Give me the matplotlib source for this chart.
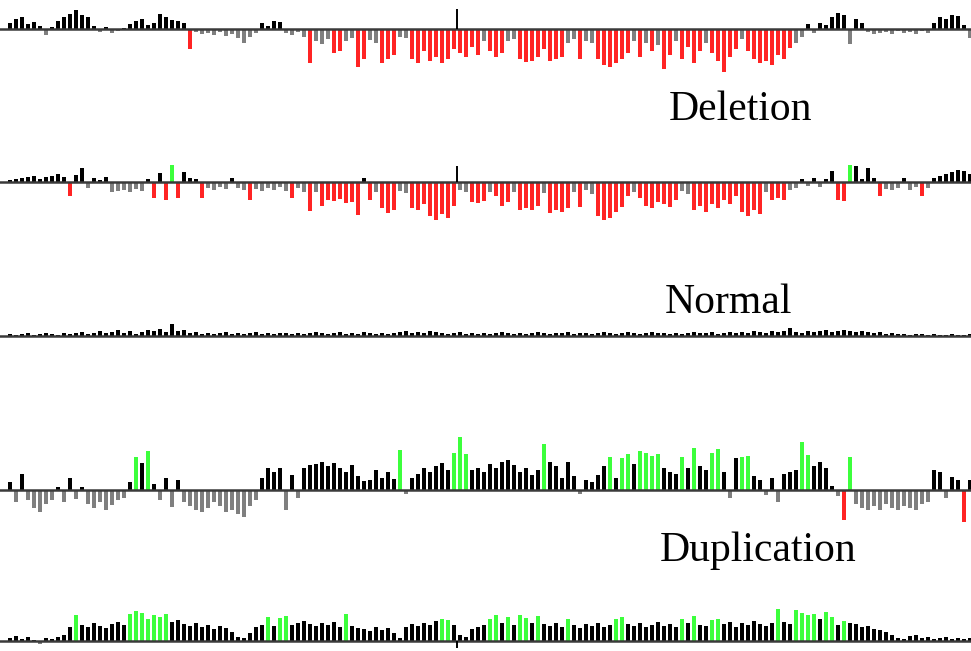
import matplotlib
matplotlib.use("Agg")
import matplotlib.pyplot as plt

# ====== DATA (bar heights, one bar per probe bin, px-like units, + = gain) ======
TRACK_DEL_A = [
    6, 10, 12, 5, 7, 3, -6, 2, 8, 12, 15, 19, 14, 12, 3, -3, 2, -4, -2, 1,
    5, 8, 10, 4, 6, 15, 12, 9, 8, 6, -20, -3, -5, -4, -6, -3, -7, -5, -9, -14,
    -8, -4, 6, 3, 8, 7, -4, -6, -3, -8, -34, -12, -15, -10, -24, -22, -12, -9, -38, -30,
    -11, -14, -34, -30, -26, -8, -9, -30, -34, -22, -32, -28, -34, -30, -20, -24, -28, -18, -26, -12,
    -22, -28, -24, -12, -10, -30, -33, -32, -28, -20, -32, -30, -28, -14, -10, -30, -12, -14, -30, -36,
    -38, -34, -30, -24, -12, -28, -14, -22, -16, -40, -26, -12, -30, -18, -34, -22, -14, -24, -32, -43,
    -28, -20, -10, -22, -30, -34, -32, -36, -26, -30, -19, -14, -8, 5, -4, 6, 4, 12, 16, 14,
    -15, 10, 6, -3, -5, -4, -3, -5, -2, -4, -3, -5, -2, -4, 6, 12, 10, 14, 13, 4,
    -9,
]
TRACK_DEL_B = [
    2, 3, 4, 5, 6, 3, 5, 6, 8, 5, -14, 7, 14, -6, 4, 2, 5, -10, -9, -8,
    -10, -7, -9, 3, -16, 9, -18, 17, -16, 10, 4, 3, -16, -6, -8, -5, -7, 4, -6, -8,
    -18, -7, -9, -6, -8, -5, -9, -16, -6, -10, -29, -10, -24, -18, -19, -17, -21, -20, -33, 4,
    -18, -10, -26, -31, -28, -9, -11, -26, -28, -22, -34, -38, -32, -36, -24, -8, -10, -20, -21, -19,
    -10, -14, -24, -20, -10, -28, -26, -28, -24, -11, -31, -28, -30, -26, -10, -25, -8, -12, -34, -38,
    -36, -30, -25, -14, -10, -16, -24, -26, -20, -22, -25, -18, -9, -12, -28, -24, -30, -22, -26, -18,
    -22, -14, -30, -34, -28, -32, -10, -18, -16, -18, -8, -6, 3, -4, 4, -5, 3, 11, -18, -19,
    17, 16, 3, 14, 4, -14, -7, -8, -6, 4, -8, -5, -14, -6, 4, 6, 8, 10, 12, 11,
    8,
]
TRACK_NORMAL = [
    2, 1, 2, 3, 1, 2, 3, 2, 1, 3, 2, 3, 4, 2, 3, 5,
    3, 4, 6, 3, 5, 2, 4, 6, 5, 7, 4, 12, 5, 6, 3, 4,
    2, 3, 2, 3, 4, 2, 3, 2, 3, 4, 2, 3, 2, 3, 3, 2,
    3, 2, 3, 4, 3, 2, 3, 4, 2, 3, 2, 4, 3, 2, 3, 2,
    3, 4, 5, 3, 4, 3, 5, 4, 3, 2, 3, 4, 2, 3, 2, 3,
    2, 3, 4, 3, 2, 3, 2, 3, 4, 3, 2, 3, 3, 4, 2, 3,
    3, 2, 3, 4, 3, 2, 3, 4, 3, 2, 3, 4, 3, 3, 2, 3,
    2, 3, 4, 3, 3, 4, 2, 3, 4, 3, 4, 3, 5, 4, 3, 5,
    4, 5, 8, 4, 3, 5, 4, 5, 6, 4, 5, 6, 5, 4, 5, 4,
    3, 4, 2, 3, 2, 2, 1, 2, 2, 1, 2, 1, 1, 2, 1, 1, 2,
]
TRACK_DUP_A = [
    8, -12, 16, -10, -18, -22, -14, -10, 3, -12, 12, -9, 3, -14, -18, -12, -20, -15, -10, -8,
    8, 33, 27, 39, 6, -10, 12, -17, 10, -12, -16, -20, -22, -18, -12, -16, -22, -20, -24, -27,
    -16, -10, 12, 22, 18, 22, -20, 15, -8, 22, 25, 26, 28, 24, 27, 22, 18, 25, 14, 9,
    10, 20, 12, 18, 11, 40, -4, 12, 16, 22, 18, 24, 27, 20, 37, 53, 36, 20, 22, 18,
    26, 22, 28, 30, 25, 18, 22, 15, 20, 46, 28, 24, 12, 28, 14, -4, 10, 8, 15, 24,
    33, 12, 32, 36, 26, 39, 37, 34, 36, 22, 18, 16, 33, 22, 42, 24, 20, 37, 41, 18,
    -8, 32, 33, 34, 14, 10, -5, 12, -12, 16, 18, 20, 48, 35, 24, 28, 22, 4, -6, -30,
    33, -14, -18, -20, -16, -20, -14, -18, -20, -16, -18, -20, -14, -12, 20, 18, -8, 13, 10, -32,
    10,
]
TRACK_DUP_B = [
    3, 5, 2, 4, 1, -3, 3, 2, 4, 6, 14, 26, 16, 14, 18, 15, 13, 17, 19, 16,
    27, 30, 28, 22, 26, 24, 27, 19, 21, 17, 15, 18, 14, 16, 12, 15, 13, 9, 4, 3,
    8, 14, 16, 24, 15, 23, 25, 16, 18, 20, 17, 15, 18, 16, 19, 14, 27, 15, 13, 12,
    10, 14, 11, 13, 8, 3, 14, 17, 15, 18, 16, 20, 22, 21, 16, 6, 4, 12, 14, 16,
    22, 26, 18, 24, 16, 26, 23, 18, 25, 17, 15, 18, 14, 22, 16, 13, 17, 15, 18, 14,
    16, 22, 24, 17, 15, 18, 14, 16, 19, 15, 17, 14, 22, 18, 25, 16, 15, 21, 22, 17,
    19, 14, 18, 16, 20, 17, 15, 18, 32, 19, 17, 31, 28, 26, 27, 22, 29, 24, 16, 20,
    18, 17, 14, 15, 12, 11, 9, 6, 3, 2, 5, 6, 3, 4, 2, 3, 4, 2, 3, 2,
    3,
]

# bins called as gained (drawn green)
GREEN_DEL_B = [27, 140]
GREEN_DUP_A = [21, 23, 65, 74, 75, 76, 89, 100, 102, 103, 105, 106, 107, 108,
               112, 114, 117, 118, 122, 123, 132, 133, 140]
GREEN_DUP_B = [11, 20, 21, 22, 23, 24, 25, 26, 43, 45, 46, 56, 72, 73, 80, 81,
               83, 85, 86, 88, 93, 101, 102, 112, 114, 117, 118, 128, 131, 132,
               133, 134, 136, 137, 139]

CENTROMERE = 74.5            # bin position of the marker tick
CENTRO_TICK = [20, 16, 0, 0, -7]

LABELS = ["Deletion", "Normal", "Duplication"]

# ====== STYLE / LAYOUT ======
W, H = 971, 651
BASE_Y = [29, 182, 336, 490, 641]       # baseline rows in px
RED_CUT = [-18, -13, -999, -28, -999]
X0, STEP = 10, 6                        # first bin px, bin spacing px
BLACK, GRAY, RED, GREEN = "#000000", "#7f7f7f", "#ff2424", "#3cff3c"
LABEL_POS = [(740, 110), (728, 303), (758, 551)]


def bar_colors(vals, green_idx, red_cut):
    out = []
    for i, v in enumerate(vals):
        if i in green_idx:
            out.append(GREEN)
        elif v >= 0:
            out.append(BLACK)
        elif v <= red_cut:
            out.append(RED)
        else:
            out.append(GRAY)
    return out


def draw_track(fig, base, vals, green_idx, red_cut, tick):
    lo, hi = -55, 60
    ax = fig.add_axes([0, (H - (base - lo)) / H, 1, (hi - lo) / H])
    ax.set_xlim(-X0 / STEP, (W - X0) / STEP)
    ax.set_ylim(lo, hi)
    ax.axis("off")

    xs = list(range(len(vals)))
    ax.bar(xs, vals, width=0.62, color=bar_colors(vals, green_idx, red_cut),
           linewidth=0, zorder=2)
    ax.axhline(0, color="#3a3a3a", lw=1.8, zorder=3)
    if tick:
        ax.vlines(CENTROMERE, 0, tick, color="#000000", lw=1.4, zorder=4)
    return ax


def main():
    plt.rcParams["font.family"] = ["Liberation Serif", "DejaVu Serif"]
    fig = plt.figure(figsize=(W / 100, H / 100), dpi=100)
    fig.patch.set_facecolor("white")

    tracks = [TRACK_DEL_A, TRACK_DEL_B, TRACK_NORMAL, TRACK_DUP_A, TRACK_DUP_B]
    greens = [[], GREEN_DEL_B, [], GREEN_DUP_A, GREEN_DUP_B]
    for k in range(5):
        draw_track(fig, BASE_Y[k], tracks[k], greens[k], RED_CUT[k], CENTRO_TICK[k])

    for text, (x, y) in zip(LABELS, LABEL_POS):
        fig.text(x / W, 1 - y / H, text, fontsize=30, ha="center", va="center",
                 color="#000000")

    fig.savefig("out.png", dpi=100, facecolor="white")


if __name__ == "__main__":
    main()
